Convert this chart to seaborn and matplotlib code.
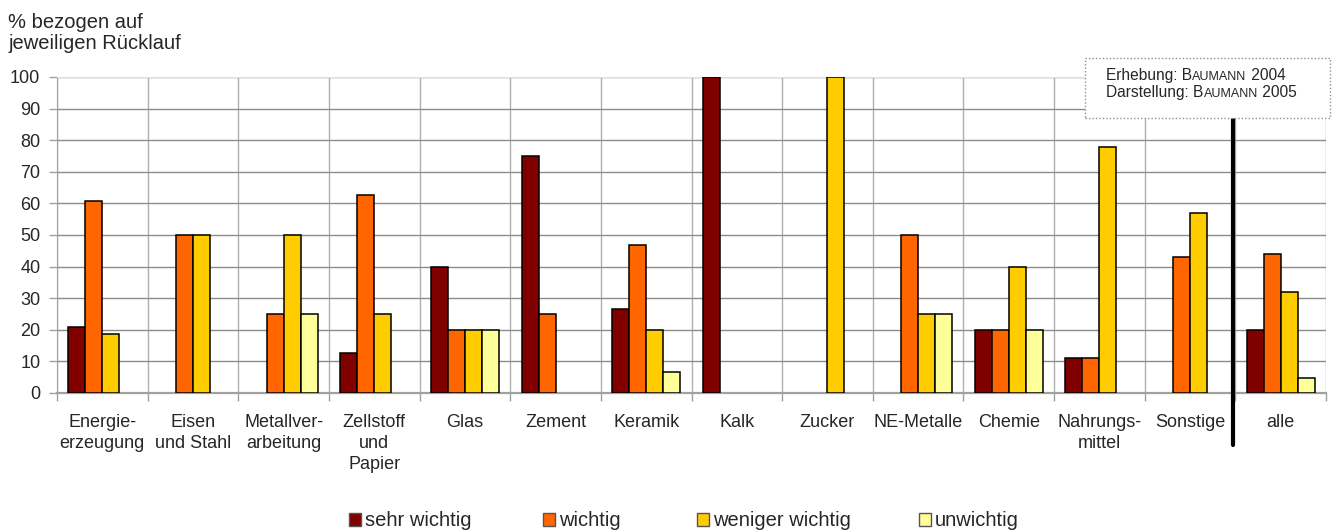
import seaborn as sns
import matplotlib.pyplot as plt
import pandas as pd
from matplotlib.patches import Patch, Rectangle
from matplotlib.offsetbox import TextArea, HPacker, VPacker, AnnotationBbox

# categories (x axis)
branchen = ["Energie-\nerzeugung", "Eisen\nund Stahl", "Metallver-\narbeitung",
            "Zellstoff\nund\nPapier", "Glas", "Zement", "Keramik", "Kalk",
            "Zucker", "NE-Metalle", "Chemie", "Nahrungs-\nmittel", "Sonstige",
            "alle"]

# series values (% bezogen auf jeweiligen Rücklauf)
sehr_wichtig = [20.8, 0, 0, 12.5, 40, 75, 26.7, 100, 0, 0, 20, 11.1, 0, 20]
wichtig = [60.6, 50, 25, 62.5, 20, 25, 46.7, 0, 0, 50, 20, 11.1, 42.9, 44.1]
weniger_wichtig = [18.6, 50, 50, 25, 20, 0, 20, 0, 100, 25, 40, 77.8, 57.1, 31.8]
unwichtig = [0, 0, 25, 0, 20, 0, 6.7, 0, 0, 25, 20, 0, 0, 4.7]

stufen = ["sehr wichtig", "wichtig", "weniger wichtig", "unwichtig"]
farben = ["#800000", "#FF6600", "#FFCC00", "#FFFF99"]

rows = []
for name, werte in zip(stufen, [sehr_wichtig, wichtig, weniger_wichtig, unwichtig]):
    for b, v in zip(branchen, werte):
        rows.append({"branche": b, "stufe": name, "wert": v})
df = pd.DataFrame(rows)

sns.set_style("white")
plt.rcParams['font.family'] = ['Liberation Sans', 'DejaVu Sans']

fig = plt.figure(figsize=(13.32, 5.31), dpi=100)
ax = fig.add_axes([0.0428, 0.26, 0.9527, 0.595])

sns.barplot(data=df, x="branche", y="wert", hue="stufe", order=branchen,
            hue_order=stufen, palette=farben, saturation=1, width=0.75,
            edgecolor="black", linewidth=1.1, errorbar=None, legend=False,
            ax=ax, zorder=3)

# hide zero bars
for p in ax.patches:
    if p.get_height() == 0:
        p.set_visible(False)

ax.set_xlim(-0.5, len(branchen) - 0.5)
ax.set_ylim(0, 100)
ax.set_yticks(range(0, 101, 10))
ax.set_xlabel("")
ax.set_ylabel("")
for lab in ax.get_xticklabels():
    lab.set_linespacing(1.32)

# grid: horizontal at major y ticks, vertical at category boundaries
ax.set_xticks([i + 0.5 for i in range(-1, len(branchen))], minor=True)
ax.grid(False)
ax.yaxis.grid(True, color="#8c8c8c", linewidth=1.0, zorder=0)
ax.xaxis.grid(True, which="minor", color="#b0b0b0", linewidth=1.0, zorder=0)
ax.set_axisbelow(True)

ax.tick_params(axis="x", which="major", length=0, pad=15, labelsize=13)
ax.tick_params(axis="x", which="minor", length=6, width=1, color="#a0a0a0",
               direction="out", bottom=True)
ax.tick_params(axis="y", length=6, width=1, color="#a0a0a0", pad=6,
               labelsize=13, left=True)

ax.spines["right"].set_visible(False)
ax.spines["top"].set_color("#e0e0e0")
ax.spines["left"].set_color("#a0a0a0")
ax.spines["bottom"].set_color("#a0a0a0")
ax.spines["bottom"].set_linewidth(1.6)

# thick separator before "alle"
ax.plot([12.47, 12.47], [87, -16.5], color="black", linewidth=3,
        clip_on=False, zorder=5)

# axis title
fig.text(0.006, 0.9, "% bezogen auf\njeweiligen Rücklauf", fontsize=14.5,
         ha="left", va="bottom", linespacing=1.15)

# source box
fig.patches.append(Rectangle((0.8145, 0.778), 0.184, 0.112, transform=fig.transFigure,
                             fill=True, facecolor="white", edgecolor="#909090",
                             linestyle=(0, (1, 1.5)), linewidth=1, zorder=4))


def quelle(prefix, jahr):
    big = dict(fontsize=11.2)
    small = dict(fontsize=9)
    return HPacker(children=[TextArea(prefix + "B", textprops=big),
                             TextArea("AUMANN", textprops=small),
                             TextArea(" " + jahr, textprops=big)],
                   align="baseline", pad=0, sep=0)


box = VPacker(children=[quelle("Erhebung: ", "2004"),
                        quelle("Darstellung: ", "2005")],
              align="left", pad=0, sep=1.5)
ab = AnnotationBbox(box, (0.8305, 0.872), xycoords="figure fraction",
                    box_alignment=(0, 1), frameon=False, zorder=6)
fig.add_artist(ab)

# legend: one entry per fixed slot
legend_x = [349, 543, 697, 919]
for lx, name, c in zip(legend_x, stufen, farben):
    h = Patch(facecolor=c, edgecolor="#555555", linewidth=1)
    fig.legend([h], [name], loc="center left",
               bbox_to_anchor=(lx / 1332, 0.019), frameon=False,
               fontsize=14.5, handlelength=0.6, handleheight=0.6,
               handletextpad=0.2, borderpad=0, borderaxespad=0)

plt.savefig("out.png", dpi=100)
plt.close()
